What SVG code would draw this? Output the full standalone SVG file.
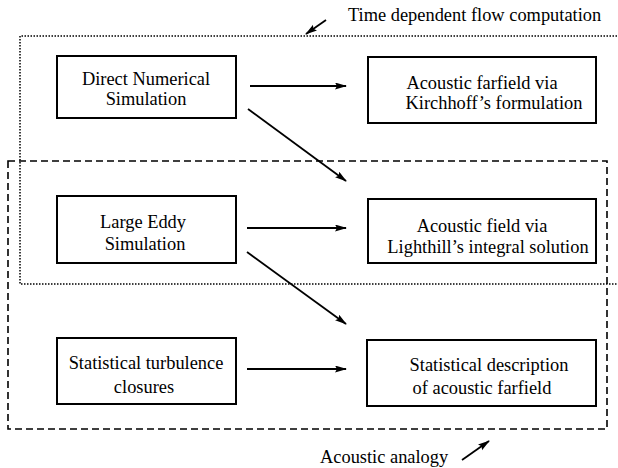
<svg xmlns="http://www.w3.org/2000/svg" width="618" height="468" viewBox="0 0 618 468">
<style>
  .box { fill: #fff; stroke: #000; stroke-width: 2; }
  .t { font-family: "Liberation Serif", "Times New Roman", serif; font-size: 18.4px; fill: #000; text-anchor: middle; }
  .tl { font-family: "Liberation Serif", "Times New Roman", serif; font-size: 18.4px; fill: #000; }
  .conn { stroke: #000; stroke-width: 1.8; fill: none; marker-end: url(#ah); }
  .dotted { stroke: #000; stroke-width: 1.5; fill: none; stroke-dasharray: 1.5 1.5; }
  .dashed { stroke: #000; stroke-width: 1.6; fill: none; stroke-dasharray: 7 4; }
</style>
<defs>
  <marker id="ah" markerUnits="userSpaceOnUse" markerWidth="12" markerHeight="8" refX="11" refY="3.5" orient="auto">
    <path d="M0,0 L12,3.5 L0,7 L2,3.5 z" fill="#000"/>
  </marker>
</defs>
<rect width="618" height="468" fill="#fff"/>

<g id="regions">
  <path class="dotted" d="M620,36 H20 V284 H620"/>
  <rect class="dashed" x="8" y="161" width="599" height="268"/>
  <text class="tl" x="348" y="21">Time dependent flow computation</text>
  <text class="tl" x="320" y="463">Acoustic analogy</text>
</g>

<g id="dns">
  <rect class="box" x="57" y="56" width="179" height="62"/>
  <text class="t" x="146" y="85">Direct Numerical</text>
  <text class="t" x="146" y="105">Simulation</text>
</g>
<g id="kirchhoff">
  <rect class="box" x="368" y="57" width="228" height="66"/>
  <text class="t" x="482" y="89">Acoustic farfield via</text>
  <text class="t" x="494" y="109">Kirchhoff’s formulation</text>
</g>
<g id="les">
  <rect class="box" x="57" y="196" width="179" height="67"/>
  <text class="t" x="143" y="228">Large Eddy</text>
  <text class="t" x="145" y="250">Simulation</text>
</g>
<g id="lighthill">
  <rect class="box" x="368" y="199" width="228" height="64"/>
  <text class="t" x="482" y="232">Acoustic field via</text>
  <text class="t" x="488" y="253">Lighthill’s integral solution</text>
</g>
<g id="statturb">
  <rect class="box" x="57" y="338" width="179" height="66"/>
  <text class="t" x="146" y="369">Statistical turbulence</text>
  <text class="t" x="144" y="393">closures</text>
</g>
<g id="statdesc">
  <rect class="box" x="367" y="340" width="229" height="66"/>
  <text class="t" x="489" y="371">Statistical description</text>
  <text class="t" x="482" y="394">of acoustic farfield</text>
</g>

<g id="connectors">
  <line class="conn" x1="250" y1="86" x2="346" y2="86"/>
  <line class="conn" x1="248" y1="109" x2="346" y2="181"/>
  <line class="conn" x1="247" y1="228" x2="346" y2="228"/>
  <line class="conn" x1="247" y1="252" x2="346" y2="324"/>
  <line class="conn" x1="247" y1="369" x2="346" y2="369"/>
  <line class="conn" x1="326" y1="20" x2="306" y2="34"/>
  <line class="conn" x1="462" y1="460" x2="489" y2="441"/>
</g>
</svg>
